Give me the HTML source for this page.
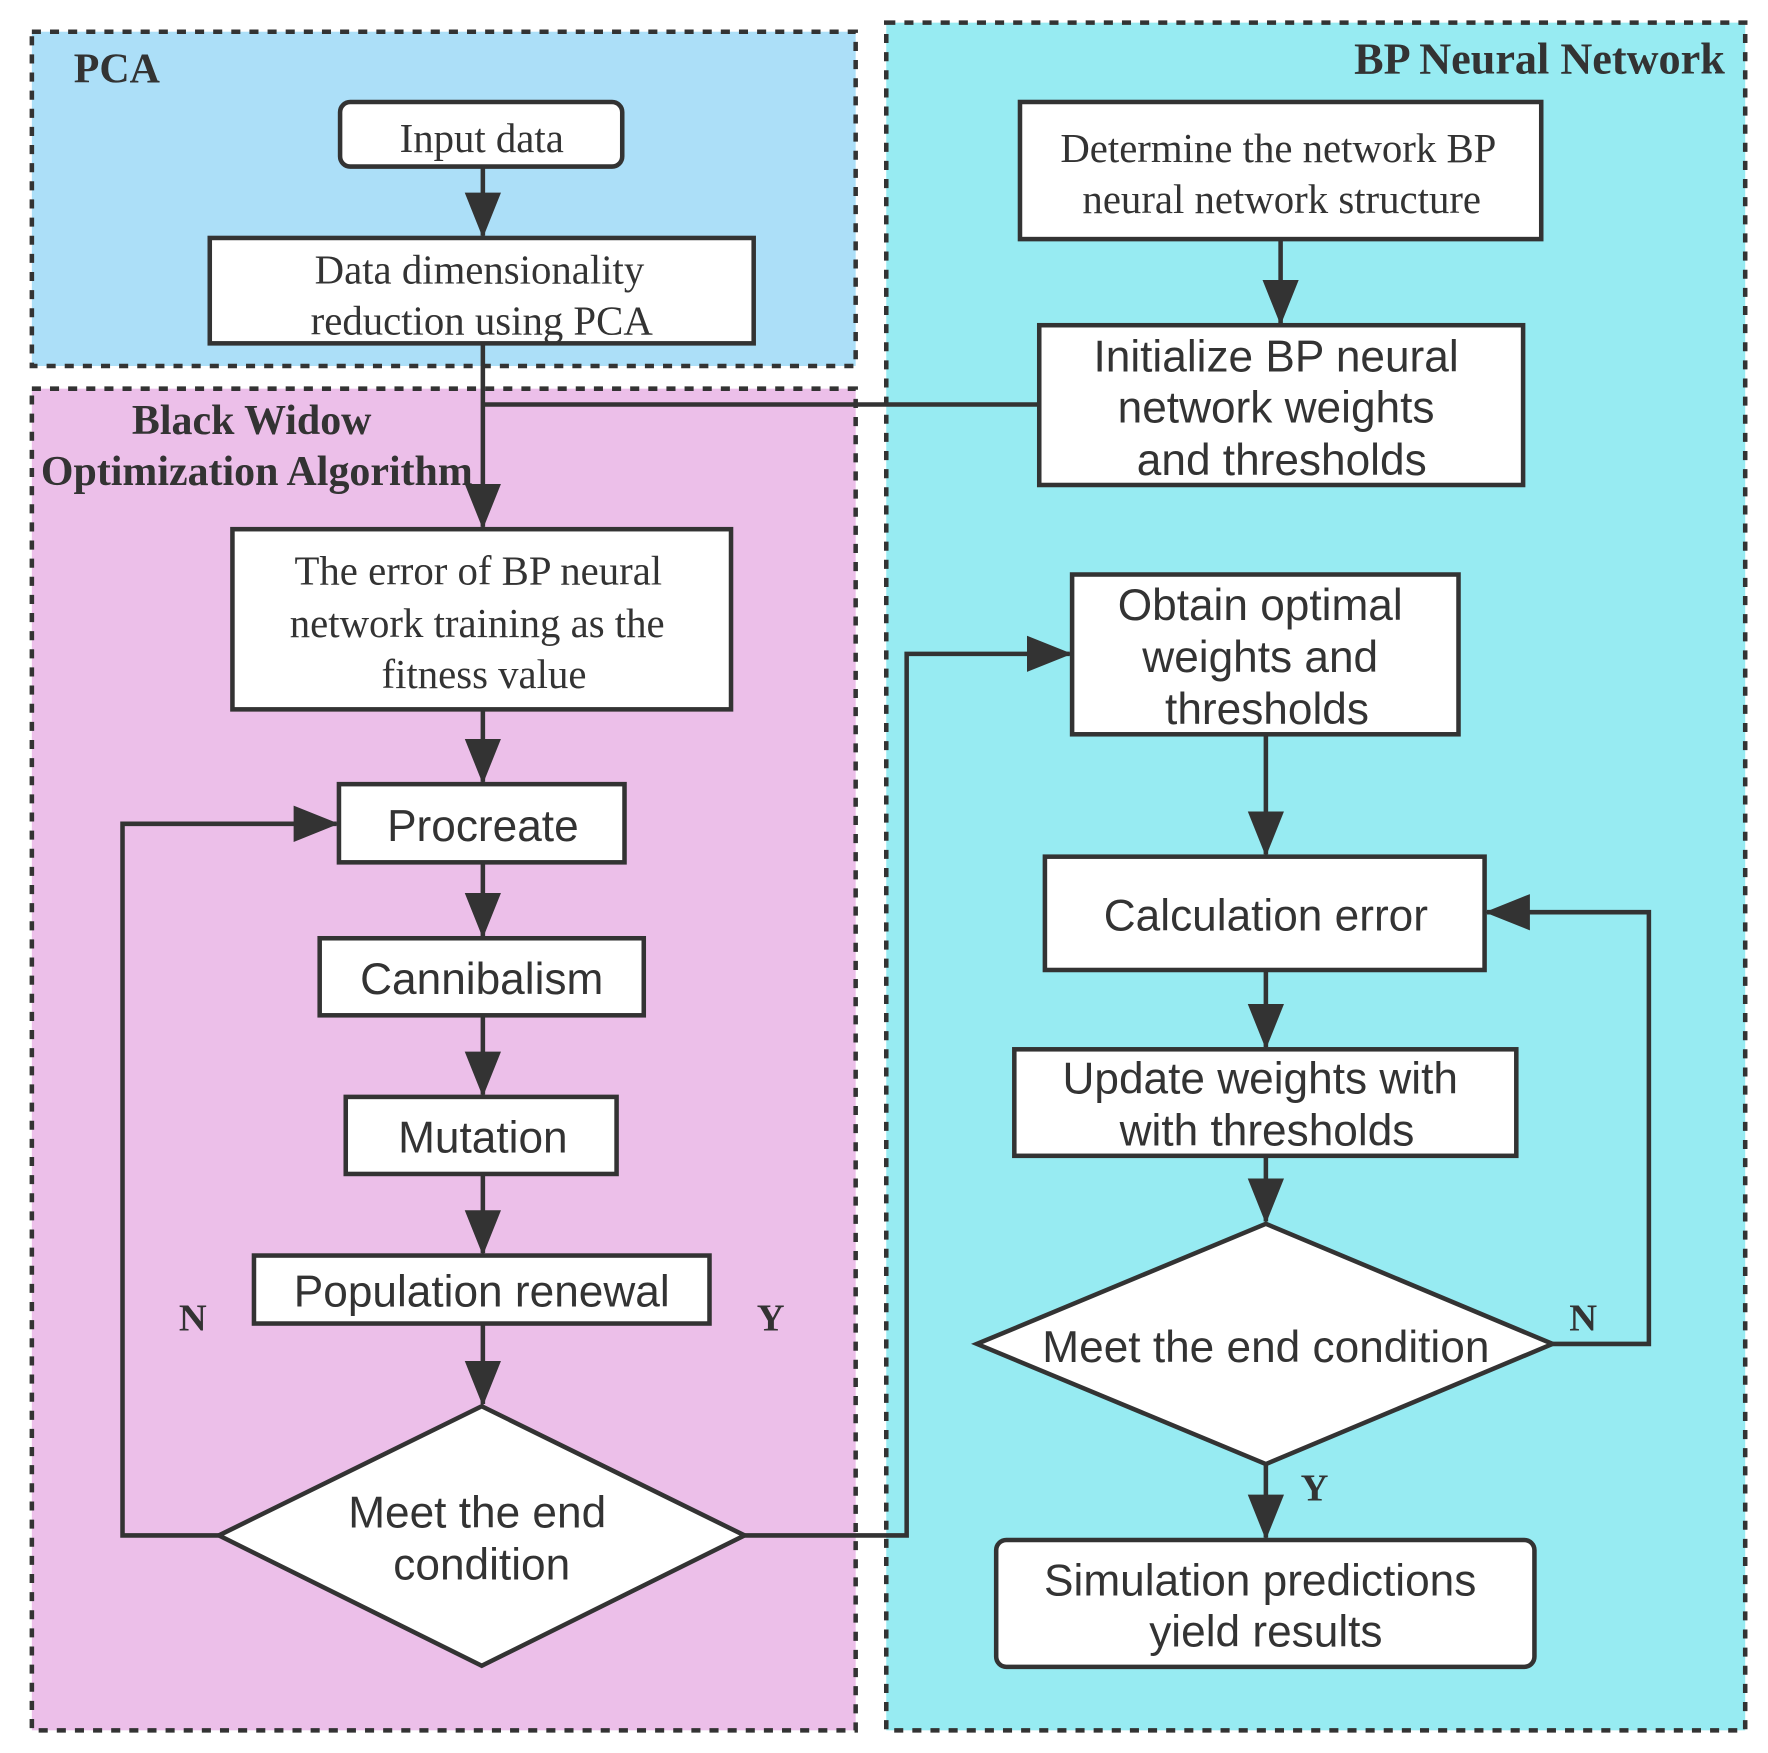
<!DOCTYPE html>
<html><head><meta charset="utf-8"><style>
html,body{margin:0;padding:0;background:#fff;}
svg{display:block;}
.s{font-family:"Liberation Serif",serif;fill:#333;}
.a{font-family:"Liberation Sans",sans-serif;fill:#333;}
</style></head><body>
<svg width="1768" height="1753" viewBox="0 0 1560 1547" xmlns="http://www.w3.org/2000/svg">
<defs>
<marker id="ar" markerWidth="40" markerHeight="40" viewBox="0 0 40 32" refX="38" refY="16" orient="auto" markerUnits="userSpaceOnUse">
<path d="M0,0 L40,16 L0,32 Z" fill="#333"/>
</marker>
</defs>
<rect width="1560" height="1547" fill="#fff"/>
<rect x="28" y="28" width="727" height="295" fill="#acdff8" stroke="#333" stroke-width="4" stroke-dasharray="8,8"/>
<rect x="28" y="343" width="727" height="1184" fill="#ecbfe9" stroke="#333" stroke-width="4" stroke-dasharray="8,8"/>
<rect x="782" y="20" width="758" height="1507" fill="#97ebf2" stroke="#333" stroke-width="4" stroke-dasharray="8,8"/>
<text class="s" x="65" y="73" font-size="37" font-weight="bold">PCA</text>
<text class="s" x="1522" y="65" font-size="39" font-weight="bold" text-anchor="end">BP Neural Network</text>
<text class="s" x="222" y="383" font-size="37" font-weight="bold" text-anchor="middle">Black Widow</text>
<text class="s" x="36" y="428" font-size="37" font-weight="bold">Optimization Algorithm</text>
<g stroke="#333" stroke-width="4" fill="none">
<line x1="426" y1="147" x2="426" y2="208" marker-end="url(#ar)"/>
<line x1="426" y1="303" x2="426" y2="465" marker-end="url(#ar)"/>
<line x1="917" y1="357" x2="426" y2="357"/>
<line x1="1130" y1="211" x2="1130" y2="285" marker-end="url(#ar)"/>
<line x1="426" y1="626" x2="426" y2="690" marker-end="url(#ar)"/>
<line x1="426" y1="761" x2="426" y2="826" marker-end="url(#ar)"/>
<line x1="426" y1="896" x2="426" y2="966" marker-end="url(#ar)"/>
<line x1="426" y1="1036" x2="426" y2="1106" marker-end="url(#ar)"/>
<line x1="426" y1="1168" x2="426" y2="1239" marker-end="url(#ar)"/>
<polyline points="193,1355 108,1355 108,727 297,727" marker-end="url(#ar)"/>
<polyline points="657,1355 800,1355 800,577 944,577" marker-end="url(#ar)"/>
<line x1="1117" y1="648" x2="1117" y2="754" marker-end="url(#ar)"/>
<line x1="1117" y1="856" x2="1117" y2="924" marker-end="url(#ar)"/>
<line x1="1117" y1="1020" x2="1117" y2="1078" marker-end="url(#ar)"/>
<line x1="1117" y1="1292" x2="1117" y2="1357" marker-end="url(#ar)"/>
<polyline points="1370,1186 1455,1186 1455,805 1312,805" marker-end="url(#ar)"/>
</g>
<g stroke="#333" stroke-width="4" fill="#fff">
<rect x="300" y="90" width="249" height="57" rx="9"/>
<rect x="185" y="210" width="480" height="93"/>
<rect x="900" y="90" width="460" height="121"/>
<rect x="917" y="287" width="427" height="141"/>
<rect x="205" y="467" width="440" height="159"/>
<rect x="299" y="692" width="252" height="69"/>
<rect x="282" y="828" width="286" height="68"/>
<rect x="305" y="968" width="239" height="68"/>
<rect x="224" y="1108" width="402" height="60"/>
<polygon points="425,1241 657,1355 425,1470 193,1355"/>
<rect x="946" y="507" width="341" height="141"/>
<rect x="922" y="756" width="388" height="100"/>
<rect x="895" y="926" width="443" height="94"/>
<polygon points="1117,1080 1370,1186 1117,1292 862,1186"/>
<rect x="879" y="1359" width="475" height="112" rx="9"/>
</g>
<g class="s" font-size="36" text-anchor="middle">
<text x="425" y="134">Input data</text>
<text x="423" y="250">Data dimensionality</text>
<text x="425" y="295">reduction using PCA</text>
<text x="1128" y="143">Determine the network BP</text>
<text x="1131" y="188">neural network structure</text>
<text x="422" y="516">The error of BP neural</text>
<text x="421" y="562">network training as the</text>
<text x="427" y="607">fitness value</text>
</g>
<g class="a" font-size="39" text-anchor="middle">
<text x="1126" y="328">Initialize BP neural</text>
<text x="1126" y="373">network weights</text>
<text x="1131" y="419">and thresholds</text>
<text x="426" y="742">Procreate</text>
<text x="425" y="877">Cannibalism</text>
<text x="426" y="1017">Mutation</text>
<text x="425" y="1153">Population renewal</text>
<text x="421" y="1348">Meet the end</text>
<text x="425" y="1394">condition</text>
<text x="1112" y="547">Obtain optimal</text>
<text x="1112" y="593">weights and</text>
<text x="1118" y="639">thresholds</text>
<text x="1117" y="821">Calculation error</text>
<text x="1112" y="965">Update weights with</text>
<text x="1118" y="1011">with thresholds</text>
<text x="1117" y="1202">Meet the end condition</text>
<text x="1112" y="1408">Simulation predictions</text>
<text x="1117" y="1453">yield results</text>
</g>
<g class="s" font-size="34" font-weight="bold" text-anchor="middle">
<text x="170" y="1174">N</text>
<text x="680" y="1174">Y</text>
<text x="1397" y="1174">N</text>
<text x="1160" y="1324">Y</text>
</g>
</svg>
</body></html>
